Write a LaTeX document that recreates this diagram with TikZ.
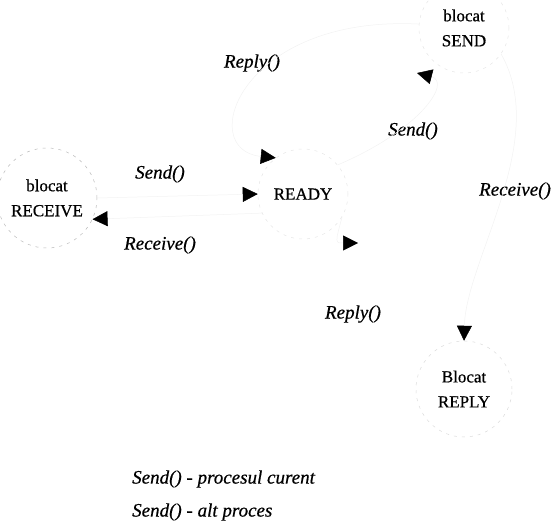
\documentclass[tikz,border=0pt]{standalone}
\usepackage{fontspec}
\setmainfont{Liberation Serif}[UprightFeatures={FakeBold=0.6},ItalicFeatures={FakeBold=0.6}]
\usetikzlibrary{arrows.meta}
\begin{document}
\begin{tikzpicture}[x=1pt,y=-1pt,
  stnode/.style={circle, draw=black!#1, dash pattern=on 3pt off 5pt, line width=0.5pt,
    inner sep=0pt, align=center, font=\fontsize{17}{25}\selectfont},
  stnode/.default=10,
  trans/.style={draw=black!5, line width=0.5pt,
    -{Triangle[length=15pt,width=15pt,color=black]}},
  lbl/.style={font=\fontsize{19}{22}\selectfont\itshape, inner sep=0pt},
]
\useasboundingbox (0,0) rectangle (553,524);

% process states
\node[stnode,    minimum size=90pt]  (send)    at (464,28)  {blocat\\SEND};
\node[stnode,    minimum size=90pt]  (ready)   at (303,194) {READY};
\node[stnode=28, minimum size=100pt] (receive) at (47,198)  {blocat\\RECEIVE};
\node[stnode=14, minimum size=96pt]  (reply)   at (464,389) {Blocat\\REPLY};

% transition labels
\node[lbl] (lreplyA) at (252,63)  {Reply()};
\node[lbl] (lsendA)  at (413,131) {Send()};
\node[lbl] (lsendB)  at (160,174) {Send()};
\node[lbl] (lrecvA)  at (160,245) {Receive()};
\node[lbl] (lrecvB)  at (515,191) {Receive()};
\node[lbl] (lreplyB) at (353,314) {Reply()};

% transitions
\coordinate (h4) at (358,243);
\coordinate (h5) at (417,73);
\draw[trans] (send.175) .. controls (240,15) and (195,150) .. (ready.127);
\draw[trans] (receive.0) -- (ready.180);
\draw[trans] (ready.205) -- (receive.-25);
\draw[trans] (ready.-30) .. controls (335,243) .. (h4);
\draw[trans] (ready.40) .. controls (420,130) and (452,82) .. (h5);
\draw[trans] (send.-35) .. controls (550,140) and (466,260) .. (reply.90);

% legend
\node[lbl, anchor=west] (leg1) at (132,479) {Send() - procesul curent};
\node[lbl, anchor=west] (leg2) at (132,512) {Send() - alt proces};
\end{tikzpicture}
\end{document}
